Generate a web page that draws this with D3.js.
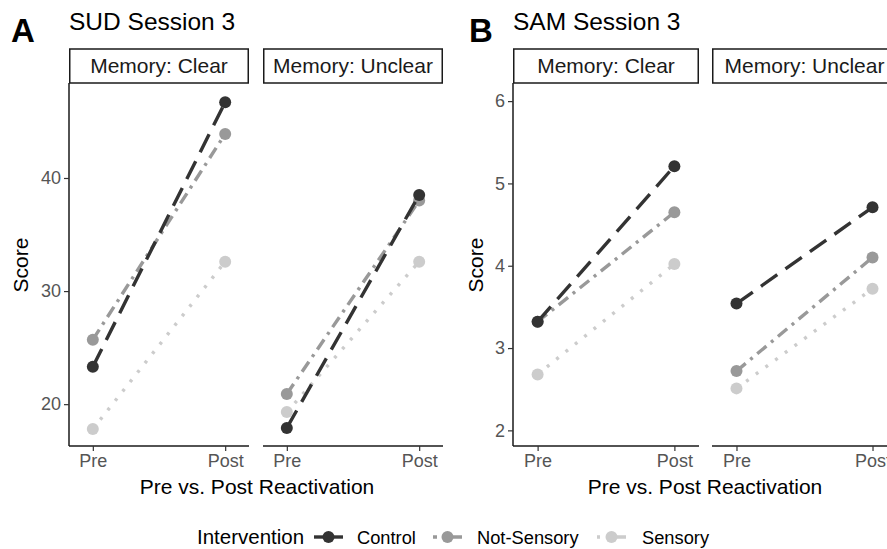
<!DOCTYPE html>
<html>
<head>
<meta charset="utf-8">
<script src="https://cdn.jsdelivr.net/npm/d3@7"></script>
<style>
  body { margin: 0; background: #fff; }
  svg text { font-family: 'Liberation Sans', Arial, sans-serif; }
</style>
</head>
<body>
<div id="chart"></div>
<script>
const width = 887
const height = 549

// data
const phases = ['Pre', 'Post']
const groups = ['Control', 'Not-Sensory', 'Sensory']
const memories = ['Memory: Clear', 'Memory: Unclear']

// SUD session 3, [pre, post] per group
const sudClear = { Control: [23.3, 46.7], 'Not-Sensory': [25.7, 43.9], Sensory: [17.8, 32.6] }
const sudUnclear = { Control: [17.9, 38.5], 'Not-Sensory': [20.9, 38.0], Sensory: [19.3, 32.6] }
// SAM session 3
const samClear = { Control: [3.32, 5.21], 'Not-Sensory': [3.32, 4.65], Sensory: [2.68, 4.02] }
const samUnclear = { Control: [3.54, 4.71], 'Not-Sensory': [2.72, 4.10], Sensory: [2.51, 3.72] }

const sudTicks = [20, 30, 40]
const samTicks = [2, 3, 4, 5, 6]

const colors = { Control: '#333333', 'Not-Sensory': '#999999', Sensory: '#cccccc' }
const dashes = { Control: '20,10', 'Not-Sensory': '12,6,3,6', Sensory: '3,9' }

const svg = d3.select('#chart').append('svg')
  .attr('width', width)
  .attr('height', height)

const panelTop = 83
const panelBottom = 446

function drawBlock(opts) {
  const y = d3.scaleLinear().domain(opts.yDomain).range([panelBottom, panelTop])

  svg.append('text')
    .attr('x', opts.letterX).attr('y', 42)
    .attr('font-size', 33).attr('font-weight', 'bold')
    .text(opts.letter)
  svg.append('text')
    .attr('x', opts.panels[0][0]).attr('y', 30)
    .attr('font-size', 24.5)
    .text(opts.title)

  opts.panels.forEach(function(p, i) {
    const x = d3.scalePoint().domain(phases).range([p[0], p[1]]).padding(0.18)
    const g = svg.append('g')

    // strip
    g.append('rect')
      .attr('x', p[0] + 0.75).attr('y', 49)
      .attr('width', p[1] - p[0] - 1.5).attr('height', panelTop - 49)
      .attr('fill', 'white').attr('stroke', '#1a1a1a').attr('stroke-width', 1.5)
    g.append('text')
      .attr('x', (p[0] + p[1]) / 2).attr('y', 73)
      .attr('text-anchor', 'middle').attr('font-size', 21).attr('fill', '#1a1a1a')
      .text(memories[i])

    // x axis
    const xa = g.append('g').attr('transform', `translate(0,${panelBottom})`)
      .call(d3.axisBottom(x).tickSize(5).tickPadding(3))
    xa.select('.domain').attr('stroke', '#1a1a1a').attr('stroke-width', 1.5)
      .attr('d', `M${p[0]},0H${p[1]}`)
    xa.selectAll('.tick line').attr('stroke', '#333').attr('stroke-width', 1.2)
    xa.selectAll('.tick text').attr('font-size', 18).attr('fill', '#555')
      .attr('font-family', 'Liberation Sans, Arial, sans-serif')

    if (i === 0) {
      const ya = g.append('g').attr('transform', `translate(${p[0]},0)`)
        .call(d3.axisLeft(y).tickValues(opts.ticks).tickFormat(d3.format('d')).tickSize(5).tickPadding(3))
      ya.select('.domain').attr('stroke', '#1a1a1a').attr('stroke-width', 1.5)
        .attr('d', `M0,${panelTop}V${panelBottom}`)
      ya.selectAll('.tick line').attr('stroke', '#333').attr('stroke-width', 1.2)
      ya.selectAll('.tick text').attr('font-size', 18).attr('fill', '#555')
        .attr('font-family', 'Liberation Sans, Arial, sans-serif')
    }

    const data = opts.data[i]
    groups.slice().reverse().forEach(function(grp) {
      const vals = data[grp]
      g.append('line')
        .attr('x1', x('Pre')).attr('y1', y(vals[0]))
        .attr('x2', x('Post')).attr('y2', y(vals[1]))
        .attr('stroke', colors[grp]).attr('stroke-width', 3.4)
        .attr('stroke-dasharray', dashes[grp])
      g.selectAll(null).data(vals).enter().append('circle')
        .attr('cx', (d, j) => x(phases[j]))
        .attr('cy', d => y(d))
        .attr('r', 6)
        .attr('fill', colors[grp])
    })
  })

  // axis titles
  svg.append('text')
    .attr('x', opts.xTitleX).attr('y', 494)
    .attr('text-anchor', 'middle').attr('font-size', 21)
    .text('Pre vs. Post Reactivation')
  svg.append('text')
    .attr('transform', `translate(${opts.scoreX},265) rotate(-90)`)
    .attr('text-anchor', 'middle').attr('font-size', 21)
    .text('Score')
}

drawBlock({
  letter: 'A', letterX: 11, title: 'SUD Session 3',
  panels: [[69, 249], [263, 443]],
  yDomain: [16.3, 48.4], ticks: sudTicks,
  data: [sudClear, sudUnclear],
  xTitleX: 257, scoreX: 28
})

drawBlock({
  letter: 'B', letterX: 469, title: 'SAM Session 3',
  panels: [[513, 699], [712, 897]],
  yDomain: [1.81, 6.22], ticks: samTicks,
  data: [samClear, samUnclear],
  xTitleX: 705, scoreX: 483
})

// legend
const legend = svg.append('g').attr('transform', 'translate(0,537)')
legend.append('text').attr('x', 197).attr('y', 7).attr('font-size', 20.5).text('Intervention')
const keys = [
  { g: 'Control', x: 314, tx: 357 },
  { g: 'Not-Sensory', x: 433, tx: 477 },
  { g: 'Sensory', x: 597, tx: 642 }
]
keys.forEach(function(k) {
  legend.append('line')
    .attr('x1', k.x).attr('x2', k.x + 29).attr('y1', 0).attr('y2', 0)
    .attr('stroke', colors[k.g]).attr('stroke-width', 3.4)
    .attr('stroke-dasharray', k.g === 'Control' ? '29' : k.g === 'Not-Sensory' ? '4,5,20' : '3,9,0,5,12')
  legend.append('circle').attr('cx', k.x + 14.5).attr('cy', 0).attr('r', 6).attr('fill', colors[k.g])
  legend.append('text').attr('x', k.tx).attr('y', 7).attr('font-size', 18.3).text(k.g)
})
</script>
</body>
</html>
